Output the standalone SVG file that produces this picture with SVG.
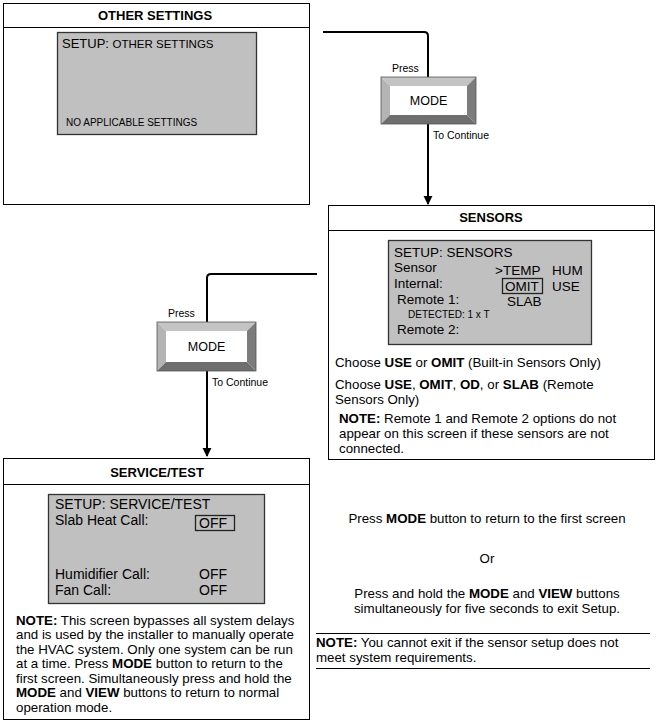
<svg xmlns="http://www.w3.org/2000/svg" width="658" height="725" viewBox="0 0 658 725">
<defs>
<style>
text{font-family:"Liberation Sans",Arial,sans-serif;fill:#000}
.box{fill:#fff;stroke:#000;stroke-width:1}
.scr{fill:#c0c0c0;stroke:#333;stroke-width:1.3}
.hdr{font-size:13px;font-weight:bold;text-anchor:middle}
.st{font-size:13.5px}
.st2{font-size:14px}
.body{font-size:13.3px}
.b{font-weight:bold}
.conn{fill:none;stroke:#000;stroke-width:2}
.mid{text-anchor:middle}
</style>
<marker id="ah" viewBox="0 0 10 10" refX="9" refY="5" markerWidth="4.5" markerHeight="6" orient="auto" markerUnits="strokeWidth">
<path d="M0,0 L10,5 L0,10 z" fill="#000"/>
</marker>
</defs>
<rect width="658" height="725" fill="#fff"/>

<g id="connectors">
<path class="conn" d="M323,32 H424 Q428,32 428,36 V77"/>
<path class="conn" d="M428,124 V204" marker-end="url(#ah)"/>
<path class="conn" d="M317,274 H211 Q207,274 207,278 V322"/>
<path class="conn" d="M207,371 V456" marker-end="url(#ah)"/>
</g>

<g id="other-settings">
<rect class="box" x="3.5" y="3.5" width="306" height="201"/>
<line x1="3.5" y1="27.5" x2="309.5" y2="27.5" stroke="#000"/>
<text class="hdr" x="155" y="20">OTHER SETTINGS</text>
<rect class="scr" x="57.5" y="32.5" width="199" height="102"/>
<text x="62" y="48" font-size="13px">SETUP: <tspan font-size="11.5px">OTHER SETTINGS</tspan></text>
<text x="66" y="126" font-size="10px">NO APPLICABLE SETTINGS</text>
</g>

<g id="mode-button-1">
<polygon points="381,77 476,77 467,86 390,86" fill="#c4c4c4"/>
<polygon points="381,77 390,86 390,115 381,124" fill="#b4b4b4"/>
<polygon points="476,77 476,124 467,115 467,86" fill="#7c7c7c"/>
<polygon points="381,124 390,115 467,115 476,124" fill="#6e6e6e"/>
<rect x="390" y="86" width="77" height="29" fill="#fff"/>
<rect x="381" y="77" width="95" height="47" fill="none" stroke="#555" stroke-width="0.8"/>
<text x="392" y="72" font-size="10.5px">Press</text>
<text x="428.5" y="105" font-size="12.5px" class="mid">MODE</text>
<text x="433" y="139" font-size="10.5px">To Continue</text>
</g>

<g id="sensors">
<rect class="box" x="328.5" y="205.5" width="326" height="254"/>
<line x1="328.5" y1="230.5" x2="654.5" y2="230.5" stroke="#000"/>
<text class="hdr" x="491" y="222">SENSORS</text>
<rect class="scr" x="388.5" y="240.5" width="203" height="104"/>
<text class="st" x="394" y="257">SETUP: SENSORS</text>
<text class="st" x="394" y="272">Sensor</text>
<text class="st" x="394" y="288">Internal:</text>
<text class="st" x="397" y="304">Remote 1:</text>
<text x="408" y="318" font-size="10px">DETECTED: 1 x T</text>
<text class="st" x="397" y="334">Remote 2:</text>
<text class="st" x="495" y="275">&gt;TEMP</text>
<text class="st" x="552" y="275">HUM</text>
<rect x="502.5" y="278.5" width="40" height="15" fill="none" stroke="#222" stroke-width="1.3"/>
<text class="st" x="505" y="291">OMIT</text>
<text class="st" x="552" y="291">USE</text>
<text class="st" x="507" y="306">SLAB</text>
<text class="body" x="335" y="367">Choose <tspan class="b">USE</tspan> or <tspan class="b">OMIT</tspan> (Built-in Sensors Only)</text>
<text class="body" x="335" y="389">Choose <tspan class="b">USE</tspan>, <tspan class="b">OMIT</tspan>, <tspan class="b">OD</tspan>, or <tspan class="b">SLAB</tspan> (Remote</text>
<text class="body" x="335" y="404">Sensors Only)</text>
<text class="body" x="339" y="423"><tspan class="b">NOTE:</tspan> Remote 1 and Remote 2 options do not</text>
<text class="body" x="339" y="438">appear on this screen if these sensors are not</text>
<text class="body" x="339" y="453">connected.</text>
</g>

<g id="mode-button-2">
<polygon points="157,322 256,322 247,331 166,331" fill="#c4c4c4"/>
<polygon points="157,322 166,331 166,362 157,371" fill="#b4b4b4"/>
<polygon points="256,322 256,371 247,362 247,331" fill="#7c7c7c"/>
<polygon points="157,371 166,362 247,362 256,371" fill="#6e6e6e"/>
<rect x="166" y="331" width="81" height="31" fill="#fff"/>
<rect x="157" y="322" width="99" height="49" fill="none" stroke="#555" stroke-width="0.8"/>
<text x="168" y="317" font-size="10.5px">Press</text>
<text x="206.5" y="351" font-size="12.5px" class="mid">MODE</text>
<text x="212" y="386" font-size="10.5px">To Continue</text>
</g>

<g id="service-test">
<rect class="box" x="3.5" y="458.5" width="306" height="261"/>
<line x1="3.5" y1="484.5" x2="309.5" y2="484.5" stroke="#000"/>
<text class="hdr" x="157" y="477">SERVICE/TEST</text>
<rect class="scr" x="48.5" y="494.5" width="216" height="109"/>
<text class="st2" x="55" y="509">SETUP: SERVICE/TEST</text>
<text class="st2" x="55" y="524.5">Slab Heat Call:</text>
<rect x="195.5" y="515.5" width="39" height="15" fill="none" stroke="#222" stroke-width="1.3"/>
<text class="st2" x="199" y="528">OFF</text>
<text class="st2" x="55" y="579">Humidifier Call:</text>
<text class="st2" x="199" y="579">OFF</text>
<text class="st2" x="55" y="595">Fan Call:</text>
<text class="st2" x="199" y="595">OFF</text>
<text class="body" x="16" y="625"><tspan class="b">NOTE:</tspan> This screen bypasses all system delays</text>
<text class="body" x="16" y="639">and is used by the installer to manually operate</text>
<text class="body" x="16" y="654">the HVAC system. Only one system can be run</text>
<text class="body" x="16" y="668">at a time. Press <tspan class="b">MODE</tspan> button to return to the</text>
<text class="body" x="16" y="683">first screen. Simultaneously press and hold the</text>
<text class="body" x="16" y="697"><tspan class="b">MODE</tspan> and <tspan class="b">VIEW</tspan> buttons to return to normal</text>
<text class="body" x="16" y="712">operation mode.</text>
</g>

<g id="exit-notes">
<text class="body mid" x="487" y="523">Press <tspan class="b">MODE</tspan> button to return to the first screen</text>
<text class="body mid" x="487" y="563">Or</text>
<text class="body mid" x="487" y="598">Press and hold the <tspan class="b">MODE</tspan> and <tspan class="b">VIEW</tspan> buttons</text>
<text class="body mid" x="487" y="613">simultaneously for five seconds to exit Setup.</text>
<line x1="316" y1="633.5" x2="650" y2="633.5" stroke="#000"/>
<text class="body" x="316" y="647"><tspan class="b">NOTE:</tspan> You cannot exit if the sensor setup does not</text>
<text class="body" x="316" y="662">meet system requirements.</text>
<line x1="316" y1="668.5" x2="650" y2="668.5" stroke="#000"/>
</g>
</svg>
